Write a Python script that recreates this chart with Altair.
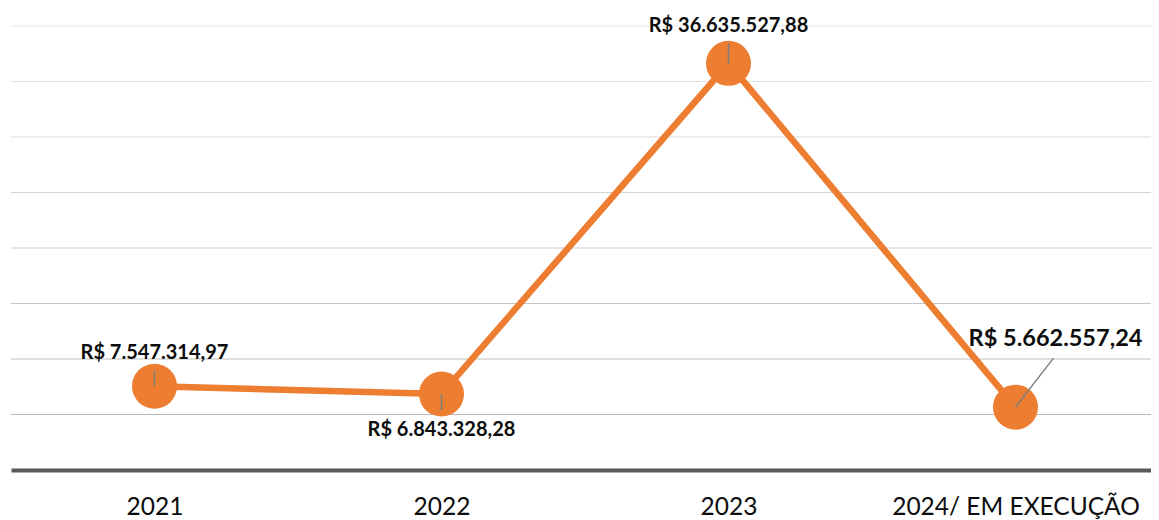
import altair as alt
import pandas as pd

categories = ["2021", "2022", "2023", "2024/ EM EXECUÇÃO"]
values = [7547314.97, 6843328.28, 36635527.88, 5662557.24]
labels = ["R$ 7.547.314,97", "R$ 6.843.328,28", "R$ 36.635.527,88", "R$ 5.662.557,24"]
grid_values = [5000000, 10000000, 15000000, 20000000, 25000000, 30000000, 35000000, 40000000]

df = pd.DataFrame({"cat": categories, "value": values, "label": labels})
gdf = pd.DataFrame({"g": grid_values})

ORANGE = "#ED7D31"
yscale = alt.Scale(domain=[0, 40000000], nice=False, zero=True)
x_enc = alt.X(
    "cat:N",
    sort=categories,
    scale=alt.Scale(type="point", padding=0.5),
    axis=alt.Axis(
        title=None, ticks=False, tickSize=0, grid=False,
        domainColor="#595959", domainWidth=4,
        labelFont="Lato", labelFontSize=24.5, labelColor="#0d0d0d",
        labelPadding=25, labelAngle=0, labelLimit=0,
    ),
)

grid = alt.Chart(gdf).mark_rule(strokeWidth=1).encode(
    y=alt.Y("g:Q", scale=yscale, axis=None),
    color=alt.Color("g:Q", scale=alt.Scale(domain=[0, 40000000], range=["#b4b4b4", "#e6e6e6"]), legend=None),
)

base = alt.Chart(df)
line = base.mark_line(color=ORANGE, strokeWidth=6.5).encode(
    x=x_enc, y=alt.Y("value:Q", scale=yscale, axis=None)
)
points = base.mark_point(filled=True, shape="circle", size=2025, opacity=1, color=ORANGE).encode(
    x=x_enc, y=alt.Y("value:Q", scale=yscale, axis=None)
)

def leader(cat, **offs):
    return base.transform_filter(alt.datum.cat == cat).mark_rule(
        color="#7f7f7f", strokeWidth=1.5, **offs
    ).encode(
        x=x_enc, x2=alt.X2("cat"),
        y=alt.Y("value:Q", scale=yscale, axis=None), y2=alt.Y2("value"),
    )

def label(cat, size, dx, dy):
    return base.transform_filter(alt.datum.cat == cat).mark_text(
        font="Lato", fontWeight="bold", fontSize=size, color="#0d0d0d",
        align="center", baseline="alphabetic", dx=dx, dy=dy,
    ).encode(
        x=x_enc, y=alt.Y("value:Q", scale=yscale, axis=None), text="label:N"
    )

leaders = [
    leader("2021", y2Offset=-16),
    leader("2022", y2Offset=16),
    leader("2023", y2Offset=-20),
    leader("2024/ EM EXECUÇÃO", x2Offset=38, y2Offset=-49),
]
texts = [
    label("2021", 20, 0, -27),
    label("2022", 20, 0, 42),
    label("2023", 20, 0, -31),
    label("2024/ EM EXECUÇÃO", 23.5, 40, -61),
]

chart = alt.layer(grid, line, points, *leaders, *texts).properties(
    width=1148, height=444,
    autosize=alt.AutoSizeParams(type="none"),
    padding={"left": 3, "top": 18, "right": -8, "bottom": 50},
    background="white",
).configure_view(stroke=None)

chart.save("out.html", embed_options={"renderer": "svg", "actions": False})
